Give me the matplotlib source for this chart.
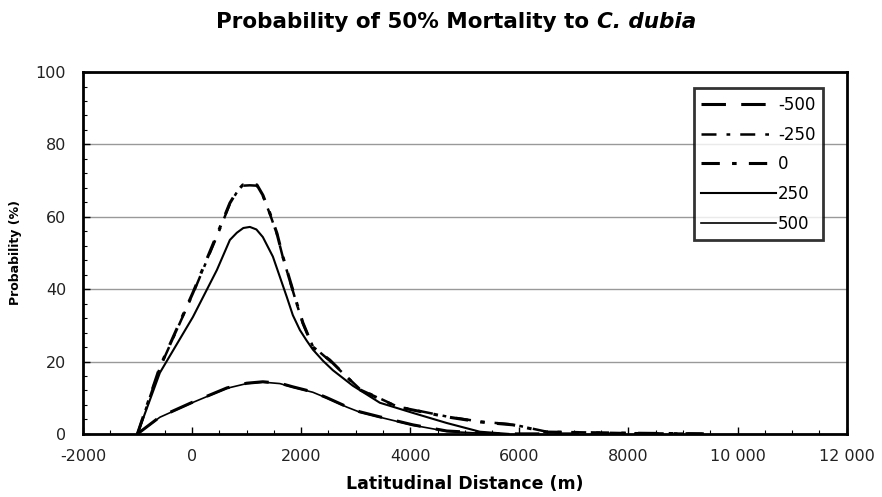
import matplotlib
matplotlib.use('Agg')
import matplotlib.pyplot as plt
from matplotlib.ticker import MultipleLocator

plt.rcParams['font.family'] = ['DejaVu Sans']

# values
x_m500 = [-1000, -589, 16, 639, 1000, 1298, 1610, 1848, 2215, 2471, 2838, 3076, 3443, 4047, 4670, 5275, 5460, 6500, 9000]
y_m500 = [0, 4.7, 8.8, 12.7, 14.0, 14.4, 14.0, 13.0, 11.6, 10.0, 7.5, 6.1, 4.7, 2.5, 0.8, 0.3, 0.0, 0.0, 0.0]

x_m250 = [-1000, -589, 16, 510, 694, 822, 930, 1060, 1190, 1298, 1427, 1555, 1665, 1793, 1922, 2032, 2215, 2526, 3076, 3754, 4670, 5275, 5880, 6500, 8000, 9500]
y_m250 = [0, 18.3, 38.7, 56.6, 63.6, 66.8, 68.6, 68.7, 68.6, 65.8, 60.8, 55.3, 48.8, 42.3, 35.8, 30.5, 24.2, 20.2, 12.4, 7.6, 4.8, 3.4, 2.6, 0.6, 0.2, 0.0]

x_0 = [-1000, -589, 16, 510, 694, 822, 930, 1060, 1190, 1298, 1427, 1555, 1665, 1793, 1922, 2032, 2215, 2526, 3076, 3754, 4670, 5275, 5880, 6500, 8000, 9500]
y_0 = [0, 18.5, 39.0, 57.0, 63.8, 67.0, 68.8, 68.9, 68.8, 66.0, 61.0, 55.5, 49.0, 42.5, 36.0, 30.7, 24.0, 20.4, 12.2, 7.5, 4.7, 3.3, 2.5, 0.5, 0.2, 0.0]

x_250 = [-1000, -589, 16, 456, 694, 822, 940, 1060, 1180, 1298, 1482, 1610, 1738, 1848, 1977, 2100, 2215, 2400, 2581, 2948, 3443, 4047, 4670, 5275, 5800]
y_250 = [0, 16.9, 32.3, 45.3, 53.6, 55.6, 56.9, 57.2, 56.5, 54.4, 49.0, 43.4, 37.8, 32.8, 28.7, 25.8, 23.3, 20.2, 17.6, 13.3, 8.6, 5.8, 3.0, 0.6, 0.0]

x_500 = [-1000, -589, 16, 639, 1000, 1298, 1610, 1848, 2215, 2471, 2838, 3076, 3443, 4047, 4670, 5275, 5460]
y_500 = [0, 4.6, 8.7, 12.6, 13.9, 14.3, 13.9, 12.9, 11.5, 9.9, 7.4, 6.0, 4.6, 2.4, 0.7, 0.2, 0.0]

xticks = [-2000, 0, 2000, 4000, 6000, 8000, 10000, 12000]
xticklabels = ['-2000', '0', '2000', '4000', '6000', '8000', '10 000', '12 000']
yticks = [0, 20, 40, 60, 80, 100]

fig = plt.figure(figsize=(8.82, 4.97), dpi=100)
ax = fig.add_axes([0.094, 0.127, 0.866, 0.728])

ax.plot(x_m500, y_m500, color='black', lw=2.2, dashes=(8, 5), label='-500')
ax.plot(x_m250, y_m250, color='black', lw=1.8, dashes=(6, 4, 1.5, 4), label='-250')
ax.plot(x_0, y_0, color='black', lw=2.2, dashes=(6, 4, 1.5, 4), label='0')
ax.plot(x_250, y_250, color='black', lw=1.5, label='250')
ax.plot(x_500, y_500, color='black', lw=1.2, label='500')

ax.set_xlim(-2000, 12000)
ax.set_ylim(0, 100)
ax.set_xticks(xticks)
ax.set_xticklabels(xticklabels)
ax.set_yticks(yticks)
ax.xaxis.set_minor_locator(MultipleLocator(500))
ax.yaxis.set_minor_locator(MultipleLocator(4))
ax.tick_params(which='major', direction='in', length=5, width=1, labelsize=11.5, colors='black')
ax.tick_params(axis='x', which='major', pad=11)
ax.tick_params(axis='y', which='major', pad=12)
ax.tick_params(which='minor', direction='in', length=3, width=0.8)
for lab in ax.get_xticklabels() + ax.get_yticklabels():
    lab.set_color('#222222')
ax.yaxis.grid(True, color='#999999', lw=1)
ax.set_axisbelow(True)
for s in ax.spines.values():
    s.set_linewidth(2)

ax.set_xlabel('Latitudinal Distance (m)', fontsize=12.5, fontweight='bold', labelpad=8)
ax.set_ylabel('Probability (%)', fontsize=9, fontweight='bold', labelpad=10)

# title in two parts so the species name can be italic
fig.text(0.677, 0.955, 'Probability of 50% Mortality to ', fontsize=15.5, fontweight='bold',
         ha='right', va='center')
fig.text(0.677, 0.955, 'C. dubia', fontsize=15.5, fontweight='bold', style='italic',
         ha='left', va='center')

leg = ax.legend(loc='upper left', bbox_to_anchor=(0.800, 0.955), fontsize=12,
                handlelength=4.5, handletextpad=0.1, labelspacing=0.7,
                frameon=True, fancybox=False, borderpad=0.45, borderaxespad=0)
leg.get_frame().set_edgecolor('black')
leg.get_frame().set_linewidth(2)

fig.savefig('out.png', dpi=100)
